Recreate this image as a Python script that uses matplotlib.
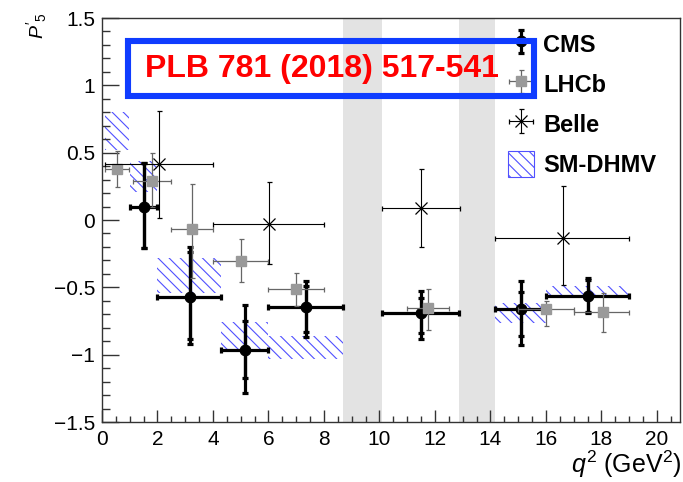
import matplotlib
matplotlib.use("Agg")
import matplotlib.pyplot as plt
import matplotlib.ticker as ticker
from matplotlib.patches import Rectangle, Patch
import numpy as np

plt.rcParams['font.family'] = ['Liberation Sans', 'DejaVu Sans']
plt.rcParams['mathtext.fontset'] = 'custom'
plt.rcParams['mathtext.rm'] = 'Liberation Sans'
plt.rcParams['mathtext.it'] = 'Liberation Sans:italic'
plt.rcParams['hatch.linewidth'] = 0.8

# CMS (PLB 781 (2018) 517)
cms_x = np.array([1.5, 3.17, 5.17, 7.35, 11.5, 15.1, 17.52])
cms_lo = np.array([1.0, 2.0, 4.3, 6.0, 10.09, 14.18, 16.0])
cms_hi = np.array([2.0, 4.3, 6.0, 8.68, 12.86, 16.0, 19.0])
cms_y = np.array([0.10, -0.574, -0.965, -0.644, -0.693, -0.663, -0.564])
cms_stat_up = np.array([0.32, 0.34, 0.218, 0.154, 0.113, 0.126, 0.119])
cms_stat_dn = np.array([0.31, 0.306, 0.21, 0.19, 0.144, 0.197, 0.12])
cms_tot_up = np.array([0.32, 0.374, 0.335, 0.194, 0.166, 0.213, 0.131])
cms_tot_dn = np.array([0.31, 0.346, 0.322, 0.226, 0.187, 0.265, 0.126])

# LHCb
lhcb_x = np.array([0.55, 1.81, 3.25, 5.0, 7.0, 11.76, 16.0, 18.04])
lhcb_lo = np.array([0.1, 1.1, 2.5, 4.0, 6.0, 11.0, 15.0, 17.0])
lhcb_hi = np.array([0.98, 2.5, 4.0, 6.0, 8.0, 12.5, 17.0, 19.0])
lhcb_y = np.array([0.38, 0.287, -0.07, -0.307, -0.51, -0.656, -0.663, -0.68])
lhcb_up = np.array([0.135, 0.213, 0.34, 0.163, 0.12, 0.146, 0.063, 0.135])
lhcb_dn = np.array([0.137, 0.187, 0.36, 0.153, 0.13, 0.161, 0.127, 0.15])

# Belle
belle_x = np.array([2.07, 6.03, 11.5, 16.6])
belle_lo = np.array([0.1, 4.0, 10.09, 14.18])
belle_hi = np.array([4.0, 8.0, 12.9, 19.0])
belle_y = np.array([0.416, -0.03, 0.087, -0.136])
belle_up = np.array([0.39, 0.31, 0.289, 0.39])
belle_dn = np.array([0.40, 0.30, 0.287, 0.344])

# SM-DHMV prediction boxes
sm_lo = np.array([0.1, 1.0, 2.0, 4.3, 6.0, 14.18, 16.0])
sm_hi = np.array([0.98, 2.0, 4.3, 6.0, 8.68, 16.0, 19.0])
sm_min = np.array([0.52, 0.21, -0.54, -0.965, -1.034, -0.767, -0.57])
sm_max = np.array([0.80, 0.44, -0.285, -0.76, -0.86, -0.62, -0.49])

# charmonium vetoes
veto_lo = [8.68, 12.86]
veto_hi = [10.09, 14.18]

xticks = [0, 2, 4, 6, 8, 10, 12, 14, 16, 18, 20]
yticks = [-1.5, -1.0, -0.5, 0.0, 0.5, 1.0, 1.5]
ytick_labels = ["\u22121.5", "\u22121", "\u22120.5", "0", "0.5", "1", "1.5"]

fig = plt.figure(figsize=(6.83, 4.82), dpi=100)
ax = fig.add_axes([102/683, 1-422/482, 578/683, 404/482])

for a, b in zip(veto_lo, veto_hi):
    ax.axvspan(a, b, color='#e3e3e3', lw=0, zorder=0)

sm_col = '#5050ff'
ax.bar(sm_lo, sm_max - sm_min, width=sm_hi - sm_lo, bottom=sm_min, align='edge',
       fill=False, hatch='\\\\\\', edgecolor=sm_col, lw=0, zorder=1)

cms_xerr = [cms_x - cms_lo, cms_hi - cms_x]
ax.errorbar(cms_x, cms_y, xerr=cms_xerr, yerr=[cms_tot_dn, cms_tot_up], fmt='none',
            ecolor='black', elinewidth=2.3, capsize=2.2, capthick=2.3, zorder=3)
cms_h = ax.errorbar(cms_x, cms_y, yerr=[cms_stat_dn, cms_stat_up], fmt='o', color='black',
                    ms=7.5, elinewidth=2.3, capsize=2.2, capthick=2.3, zorder=3)

lhcb_h = ax.errorbar(lhcb_x, lhcb_y, xerr=[lhcb_x - lhcb_lo, lhcb_hi - lhcb_x],
                     yerr=[lhcb_dn, lhcb_up], fmt='s', color='#999999', ecolor='#666666',
                     ms=6.5, elinewidth=0.9, capsize=1.8, capthick=0.9, zorder=4)

belle_h = ax.errorbar(belle_x, belle_y, xerr=[belle_x - belle_lo, belle_hi - belle_x],
                      yerr=[belle_dn, belle_up], fmt='x', color='black', mew=0.9,
                      ms=9, elinewidth=0.8, capsize=1.8, capthick=0.8, zorder=5)

ax.set_xlim(0, 20.83)
ax.set_ylim(-1.5, 1.5)
ax.set_xticks(xticks)
ax.set_yticks(yticks)
ax.set_yticklabels(ytick_labels)
ax.xaxis.set_minor_locator(ticker.MultipleLocator(0.5))
ax.yaxis.set_minor_locator(ticker.MultipleLocator(0.1))
ax.tick_params(axis='both', which='both', direction='in', top=False, right=False,
               labelsize=15, width=1, color='#333333')
ax.tick_params(axis='x', which='major', length=8.6, pad=6)
ax.tick_params(axis='x', which='minor', length=4.3)
ax.tick_params(axis='y', which='major', length=12, pad=5)
ax.tick_params(axis='y', which='minor', length=6)
for s in ax.spines.values():
    s.set_linewidth(1)
    s.set_color('#333333')

sm_patch = Patch(facecolor='white', edgecolor=sm_col, hatch='\\\\\\', lw=0.8)
leg = ax.legend([cms_h, lhcb_h, belle_h, sm_patch], ["CMS", "LHCb", "Belle", "SM-DHMV"],
                loc='upper left', bbox_to_anchor=(508/683, 1-31/482),
                bbox_transform=fig.transFigure, frameon=False,
                prop={'weight': 'bold', 'size': 17}, handlelength=1.1,
                handleheight=1.3, handletextpad=0.4, labelspacing=0.6,
                borderpad=0, borderaxespad=0)

fig.add_artist(Rectangle((128/683, 1-96/482), 406/683, 55/482, transform=fig.transFigure,
                         fill=False, edgecolor='#0f3cff', lw=4.4, zorder=10))
fig.text(322/683, 1-69/482, "PLB 781 (2018) 517-541", color='red', fontsize=23,
         fontweight='bold', ha='center', va='center', zorder=11)

fig.text(37/683, 1-13/482, r"$P'_{5}$", rotation=90, ha='center', va='top', fontsize=14)
fig.text(681/683, 2/482, r"$q^{2}$ (GeV$^{2}$)", ha='right', va='bottom', fontsize=18)

fig.savefig("out.png", dpi=100)
